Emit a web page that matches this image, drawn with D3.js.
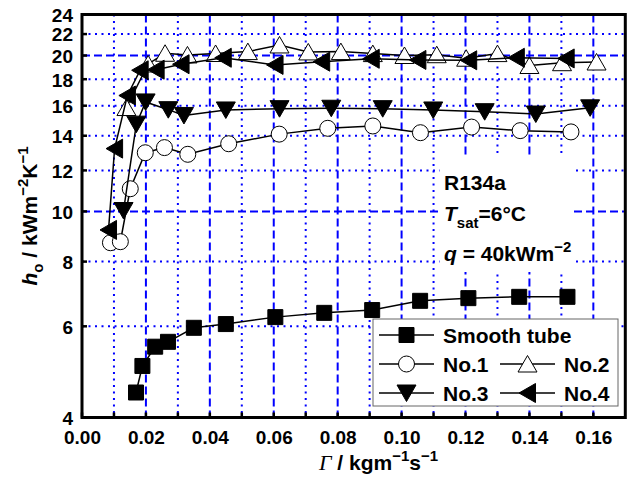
<!DOCTYPE html>
<html>
<head>
<meta charset="utf-8">
<script src="https://cdn.jsdelivr.net/npm/d3@7"></script>
<style>
  html, body { margin: 0; padding: 0; background: #fff; }
  svg text { font-family: "Liberation Sans", Arial, sans-serif; font-weight: bold; fill: #000; }
</style>
</head>
<body>
<svg id="chart" width="632" height="481"></svg>
<script>
// Mass flow rate per unit length (kg m^-1 s^-1) and heat transfer coefficient (kW m^-2 K^-1)
const gammaSmooth = [0.0169, 0.0189, 0.0229, 0.0269, 0.0350, 0.0450, 0.0605, 0.0758, 0.0908, 0.1058, 0.1209, 0.1368, 0.1519];
const hSmooth     = [4.47, 5.03, 5.48, 5.60, 5.96, 6.06, 6.25, 6.37, 6.45, 6.72, 6.80, 6.84, 6.84];

const gammaNo1 = [0.0089, 0.0120, 0.0151, 0.0198, 0.0258, 0.0331, 0.0459, 0.0617, 0.0769, 0.0910, 0.1059, 0.1219, 0.1371, 0.1530];
const hNo1     = [8.70, 8.74, 11.06, 12.98, 13.28, 12.89, 13.51, 14.10, 14.47, 14.62, 14.19, 14.55, 14.32, 14.24];

const gammaNo2 = [0.0139, 0.0207, 0.0260, 0.0330, 0.0418, 0.0519, 0.0618, 0.0708, 0.0810, 0.0910, 0.1009, 0.1110, 0.1202, 0.1300, 0.1400, 0.1502, 0.1610];
const hNo2     = [15.87, 19.26, 20.20, 20.05, 20.18, 20.35, 20.96, 20.32, 20.35, 20.17, 20.00, 20.07, 19.76, 20.17, 19.13, 19.37, 19.43];

const gammaNo3 = [0.0130, 0.0170, 0.0199, 0.0270, 0.0319, 0.0450, 0.0618, 0.0780, 0.0941, 0.1099, 0.1260, 0.1420, 0.1590];
const hNo3     = [10.04, 14.74, 16.27, 15.72, 15.32, 15.70, 15.79, 15.82, 15.79, 15.70, 15.58, 15.42, 15.85];

const gammaNo4 = [0.0083, 0.0102, 0.0142, 0.0182, 0.0232, 0.0310, 0.0442, 0.0604, 0.0750, 0.0905, 0.1051, 0.1210, 0.1359, 0.1515];
const hNo4     = [9.21, 13.22, 16.74, 18.73, 18.78, 19.24, 19.80, 19.18, 19.46, 19.71, 19.61, 19.58, 19.80, 19.74];

const seriesNames = ["Smooth tube", "No.1", "No.2", "No.3", "No.4"];

const xTicks = [0.00, 0.02, 0.04, 0.06, 0.08, 0.10, 0.12, 0.14, 0.16];
const xMinor = [0.01, 0.03, 0.05, 0.07, 0.09, 0.11, 0.13, 0.15];
const yTicks = [4, 6, 8, 10, 12, 14, 16, 18, 20, 22, 24];
const yMajorGrid = [10, 20];
const yMinorGrid = [6, 8, 12, 14, 16, 18, 22];

const svg = d3.select("#chart");
const plotL = 82, plotR = 625.3, plotT = 14.5, plotB = 417.5;

const x = d3.scaleLinear().domain([0, 0.17]).range([plotL, plotR]);
const y = d3.scaleLog().domain([4, 24]).range([plotB, plotT]);

// grid
const grid = svg.append("g");
grid.selectAll(".vmaj").data(xTicks.slice(1)).join("line")
  .attr("x1", d => x(d)).attr("x2", d => x(d)).attr("y1", plotT).attr("y2", plotB)
  .attr("stroke", "#0000ff").attr("stroke-width", 2).attr("stroke-dasharray", "8,4");
grid.selectAll(".vmin").data(xMinor).join("line")
  .attr("x1", d => x(d)).attr("x2", d => x(d)).attr("y1", plotT).attr("y2", plotB)
  .attr("stroke", "#0000ff").attr("stroke-width", 2).attr("stroke-dasharray", "2,4.5");
grid.selectAll(".hmaj").data(yMajorGrid).join("line")
  .attr("x1", plotL).attr("x2", plotR).attr("y1", d => y(d)).attr("y2", d => y(d))
  .attr("stroke", "#0000ff").attr("stroke-width", 2).attr("stroke-dasharray", "8,4");
grid.selectAll(".hmin").data(yMinorGrid).join("line")
  .attr("x1", plotL).attr("x2", plotR).attr("y1", d => y(d)).attr("y2", d => y(d))
  .attr("stroke", "#0000ff").attr("stroke-width", 2).attr("stroke-dasharray", "2,4.5");

// annotation box
svg.append("rect").attr("x", 440).attr("y", 157).attr("width", 133).attr("height", 115).attr("fill", "#fff");
const ann = svg.append("g").style("font-size", "21px");
ann.append("text").attr("x", 444).attr("y", 190).text("R134a");
const t2 = ann.append("text").attr("x", 444).attr("y", 221);
t2.append("tspan").style("font-style", "italic").text("T");
t2.append("tspan").attr("dy", 7).style("font-size", "15px").text("sat");
t2.append("tspan").attr("dy", -7).text("=6°C");
const t3 = ann.append("text").attr("x", 444).attr("y", 261);
t3.append("tspan").style("font-style", "italic").text("q");
t3.append("tspan").text(" = 40kWm");
t3.append("tspan").attr("dy", -9).style("font-size", "15px").text("−2");

// marker shapes centred on (cx, cy)
function markerPath(kind, cx, cy) {
  switch (kind) {
    case "square": { const s = 7.5; return `M${cx - s},${cy - s}h${2 * s}v${2 * s}h${-2 * s}Z`; }
    case "circle": { const r = 8; return `M${cx + r},${cy}A${r},${r} 0 1,1 ${cx - r},${cy}A${r},${r} 0 1,1 ${cx + r},${cy}Z`; }
    case "up":    return `M${cx},${cy - 8.5}L${cx + 9.5},${cy + 8}L${cx - 9.5},${cy + 8}Z`;
    case "down":  return `M${cx},${cy + 8.5}L${cx + 9.5},${cy - 8}L${cx - 9.5},${cy - 8}Z`;
    case "left":  return `M${cx - 8.5},${cy}L${cx + 8},${cy - 9.5}L${cx + 8},${cy + 9.5}Z`;
  }
}

const series = [
  { name: seriesNames[0], g: gammaSmooth, h: hSmooth, kind: "square", fill: "#000" },
  { name: seriesNames[1], g: gammaNo1, h: hNo1, kind: "circle", fill: "#fff" },
  { name: seriesNames[2], g: gammaNo2, h: hNo2, kind: "up", fill: "#fff" },
  { name: seriesNames[3], g: gammaNo3, h: hNo3, kind: "down", fill: "#000" },
  { name: seriesNames[4], g: gammaNo4, h: hNo4, kind: "left", fill: "#000" }
];

const line = d3.line().x(d => x(d[0])).y(d => y(d[1]));
series.forEach(s => {
  const pts = s.g.map((g, i) => [g, s.h[i]]);
  const sg = svg.append("g");
  sg.append("path").attr("d", line(pts)).attr("fill", "none").attr("stroke", "#000").attr("stroke-width", 1.5);
  sg.selectAll("path.m").data(pts).join("path").attr("class", "m")
    .attr("d", d => markerPath(s.kind, x(d[0]), y(d[1])))
    .attr("fill", s.fill).attr("stroke", "#000").attr("stroke-width", 1);
});

// axes
const xAxis = d3.axisBottom(x).tickValues(xTicks).tickFormat(d3.format(".2f")).tickSize(0).tickPadding(13);
const gx = svg.append("g").attr("transform", `translate(0,${plotB})`).call(xAxis);
gx.select(".domain").remove();
gx.selectAll("text").style("font-size", "19px").attr("dy", "0.71em");

const yAxis = d3.axisLeft(y).tickValues(yTicks).tickFormat(d3.format("d")).tickSize(0).tickPadding(9);
const gy = svg.append("g").attr("transform", `translate(${plotL},0)`).call(yAxis);
gy.select(".domain").remove();
gy.selectAll("text").style("font-size", "19px").attr("dy", "0.36em");

// inward tick marks
svg.append("g").selectAll("line").data(xTicks.concat(xMinor)).join("line")
  .attr("x1", d => x(d)).attr("x2", d => x(d)).attr("y1", plotB).attr("y2", plotB - 5)
  .attr("stroke", "#000").attr("stroke-width", 2.5);
svg.append("g").selectAll("line").data(yTicks).join("line")
  .attr("x1", plotL).attr("x2", plotL + 5).attr("y1", d => y(d)).attr("y2", d => y(d))
  .attr("stroke", "#000").attr("stroke-width", 2.5);

// frame
svg.append("rect").attr("x", plotL).attr("y", plotT).attr("width", plotR - plotL).attr("height", plotB - plotT)
  .attr("fill", "none").attr("stroke", "#000").attr("stroke-width", 3);

// legend
const lg = svg.append("g");
lg.append("rect").attr("x", 373).attr("y", 319).attr("width", 245).attr("height", 87)
  .attr("fill", "#fff").attr("stroke", "#666").attr("stroke-width", 1);
const legendPos = [
  { x: 379, y: 335 }, { x: 379, y: 364 }, { x: 500, y: 364 }, { x: 379, y: 393 }, { x: 500, y: 393 }
];
series.forEach((s, i) => {
  const p = legendPos[i];
  lg.append("line").attr("x1", p.x).attr("x2", p.x + 55).attr("y1", p.y).attr("y2", p.y)
    .attr("stroke", "#000").attr("stroke-width", 1.5);
  lg.append("path").attr("d", markerPath(s.kind, p.x + 27.5, p.y)).attr("fill", s.fill)
    .attr("stroke", "#000").attr("stroke-width", 1);
  lg.append("text").attr("x", p.x + 64).attr("y", p.y).attr("dy", "0.36em")
    .style("font-size", "21px").text(s.name);
});

// axis titles
const xt = svg.append("text").attr("x", 319).attr("y", 470).style("font-size", "21px");
xt.append("tspan").style("font-family", "'Liberation Serif', 'Times New Roman', serif")
  .style("font-style", "italic").style("font-weight", "normal").style("font-size", "22px").text("Γ");
xt.append("tspan").text(" / kgm");
xt.append("tspan").attr("dy", -9).style("font-size", "15px").text("−1");
xt.append("tspan").attr("dy", 9).text("s");
xt.append("tspan").attr("dy", -9).style("font-size", "15px").text("−1");

const yt = svg.append("text").attr("transform", `translate(37,${(plotT + plotB) / 2}) rotate(-90)`)
  .attr("text-anchor", "middle").style("font-size", "21px");
yt.append("tspan").style("font-style", "italic").text("h");
yt.append("tspan").attr("dy", 6).style("font-size", "15px").text("o");
yt.append("tspan").attr("dy", -6).text(" / kWm");
yt.append("tspan").attr("dy", -9).style("font-size", "15px").text("−2");
yt.append("tspan").attr("dy", 9).text("K");
yt.append("tspan").attr("dy", -9).style("font-size", "15px").text("−1");
</script>
</body>
</html>
